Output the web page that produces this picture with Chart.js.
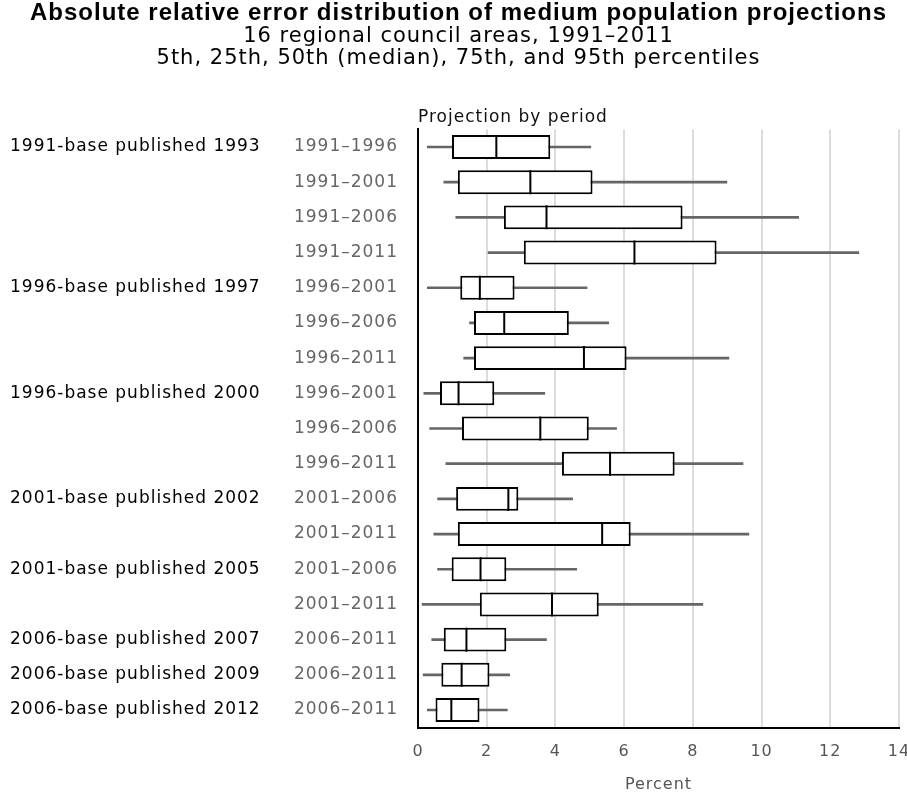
<!DOCTYPE html>
<html>
<head>
<meta charset="utf-8">
<script src="https://cdn.jsdelivr.net/npm/chart.js@4.4.1/dist/chart.umd.min.js"></script>
<style>
  body { margin: 0; background: #fff; }
</style>
</head>
<body>
<canvas id="chart" width="907" height="800"></canvas>
<script>
// Projection series, top to bottom
const groups = [
  '1991-base published 1993', '', '', '',
  '1996-base published 1997', '', '',
  '1996-base published 2000', '', '',
  '2001-base published 2002', '',
  '2001-base published 2005', '',
  '2006-base published 2007',
  '2006-base published 2009',
  '2006-base published 2012'
];
const periods = [
  '1991–1996', '1991–2001', '1991–2006', '1991–2011',
  '1996–2001', '1996–2006', '1996–2011',
  '1996–2001', '1996–2006', '1996–2011',
  '2001–2006', '2001–2011',
  '2001–2006', '2001–2011',
  '2006–2011', '2006–2011', '2006–2011'
];

// Percentiles of absolute relative error (percent)
const p5  = [0.27, 0.75, 1.10, 2.04, 0.27, 1.50, 1.33, 0.17, 0.34, 0.81, 0.57, 0.46, 0.57, 0.12, 0.40, 0.15, 0.27];
const p25 = [0.99, 1.16, 2.50, 3.08, 1.23, 1.63, 1.63, 0.64, 1.28, 4.19, 1.11, 1.16, 0.98, 1.80, 0.75, 0.68, 0.51];
const p50 = [2.28, 3.27, 3.74, 6.30, 1.80, 2.51, 4.83, 1.18, 3.56, 5.59, 2.63, 5.36, 1.82, 3.90, 1.41, 1.27, 0.97];
const p75 = [3.85, 5.08, 7.70, 8.69, 2.81, 4.39, 6.07, 2.22, 4.97, 7.47, 2.92, 6.19, 2.57, 5.26, 2.57, 2.08, 1.79];
const p95 = [5.03, 8.99, 11.08, 12.83, 4.92, 5.55, 9.05, 3.69, 5.78, 9.46, 4.50, 9.63, 4.62, 8.29, 3.74, 2.67, 2.60];

const xTicks = [0, 2, 4, 6, 8, 10, 12, 14];

Chart.defaults.font.family = '"DejaVu Sans", sans-serif';

// the source chart uses loosely spaced lettering
const spacing = {
  id: 'spacing',
  beforeUpdate(chart) { chart.ctx.letterSpacing = '1px'; },
  beforeDraw(chart) { chart.ctx.letterSpacing = '1px'; }
};

const ctx = document.getElementById('chart').getContext('2d');
new Chart(ctx, {
  type: 'bar',
  plugins: [spacing],
  data: {
    labels: periods,
    datasets: [
      {
        type: 'line',
        label: 'Median',
        data: p50,
        showLine: false,
        pointStyle: 'line',
        pointRotation: 90,
        pointRadius: 12,
        pointHoverRadius: 12,
        pointBorderWidth: 2,
        pointBorderColor: '#000',
        xAxisID: 'x',
        yAxisID: 'y',
        order: 0
      },
      {
        label: '25th–75th percentile',
        data: p25.map((v, i) => [v, p75[i]]),
        backgroundColor: '#fff',
        borderColor: '#000',
        borderWidth: 2,
        borderSkipped: false,
        barPercentage: 0.68,
        categoryPercentage: 1,
        grouped: false,
        xAxisID: 'x',
        yAxisID: 'y',
        order: 1
      },
      {
        label: '5th–95th percentile',
        data: p5.map((v, i) => [v, p95[i]]),
        backgroundColor: '#666',
        borderWidth: 0,
        barThickness: 2,
        grouped: false,
        xAxisID: 'x',
        yAxisID: 'y',
        order: 2
      }
    ]
  },
  options: {
    indexAxis: 'y',
    responsive: false,
    animation: false,
    events: [],
    layout: { autoPadding: false, padding: { left: 10, right: 0, top: 0, bottom: 0 } },
    plugins: {
      legend: { display: false },
      tooltip: { enabled: false },
      title: {
        display: true,
        text: 'Absolute relative error distribution of medium population projections',
        color: '#000',
        font: { family: '"Liberation Sans", Arial, sans-serif', size: 24, weight: 'bold', lineHeight: '24px' },
        padding: { top: 1, bottom: 0 }
      },
      subtitle: {
        display: true,
        text: ['16 regional council areas, 1991–2011', '5th, 25th, 50th (median), 75th, and 95th percentiles'],
        color: '#000',
        font: { size: 21, lineHeight: '22px' },
        padding: { top: 1, bottom: 0 }
      }
    },
    scales: {
      x: {
        type: 'linear',
        position: 'bottom',
        min: 0,
        max: 14,
        afterBuildTicks: s => { s.ticks = xTicks.map(v => ({ value: v })); },
        // the last tick label runs off the right edge, as in the source
        afterFit: s => { s.paddingRight = 8; },
        ticks: { color: '#555', padding: 0, font: { size: 16 } },
        grid: { color: '#dcdcdc', lineWidth: 2, drawTicks: true, tickLength: 15, tickColor: 'rgba(0,0,0,0)' },
        border: { color: '#000', width: 2 },
        title: {
          display: true,
          text: 'Percent',
          color: '#555',
          font: { size: 16 },
          padding: { top: 13, bottom: 6 }
        }
      },
      xTop: {
        type: 'linear',
        position: 'top',
        display: true,
        min: 0,
        max: 14,
        ticks: { display: false },
        grid: { display: false, drawTicks: false },
        border: { display: false },
        title: {
          display: true,
          text: 'Projection by period',
          align: 'start',
          color: '#111',
          font: { size: 17 },
          padding: { top: 37, bottom: 2 }
        }
      },
      y: {
        type: 'category',
        position: 'left',
        offset: true,
        ticks: { color: '#666', padding: 20, autoSkip: false, font: { size: 17 } },
        grid: { display: false, drawTicks: false },
        border: { color: '#000', width: 2 },
        afterFit: s => { s.width = 133; }
      },
      yGroup: {
        type: 'category',
        position: 'left',
        labels: groups,
        offset: true,
        weight: 1,
        ticks: { color: '#000', crossAlign: 'far', padding: 0, autoSkip: false, font: { size: 17 } },
        grid: { display: false, drawTicks: false },
        border: { display: false },
        afterFit: s => { s.width = 275; }
      }
    }
  }
});
</script>
</body>
</html>
